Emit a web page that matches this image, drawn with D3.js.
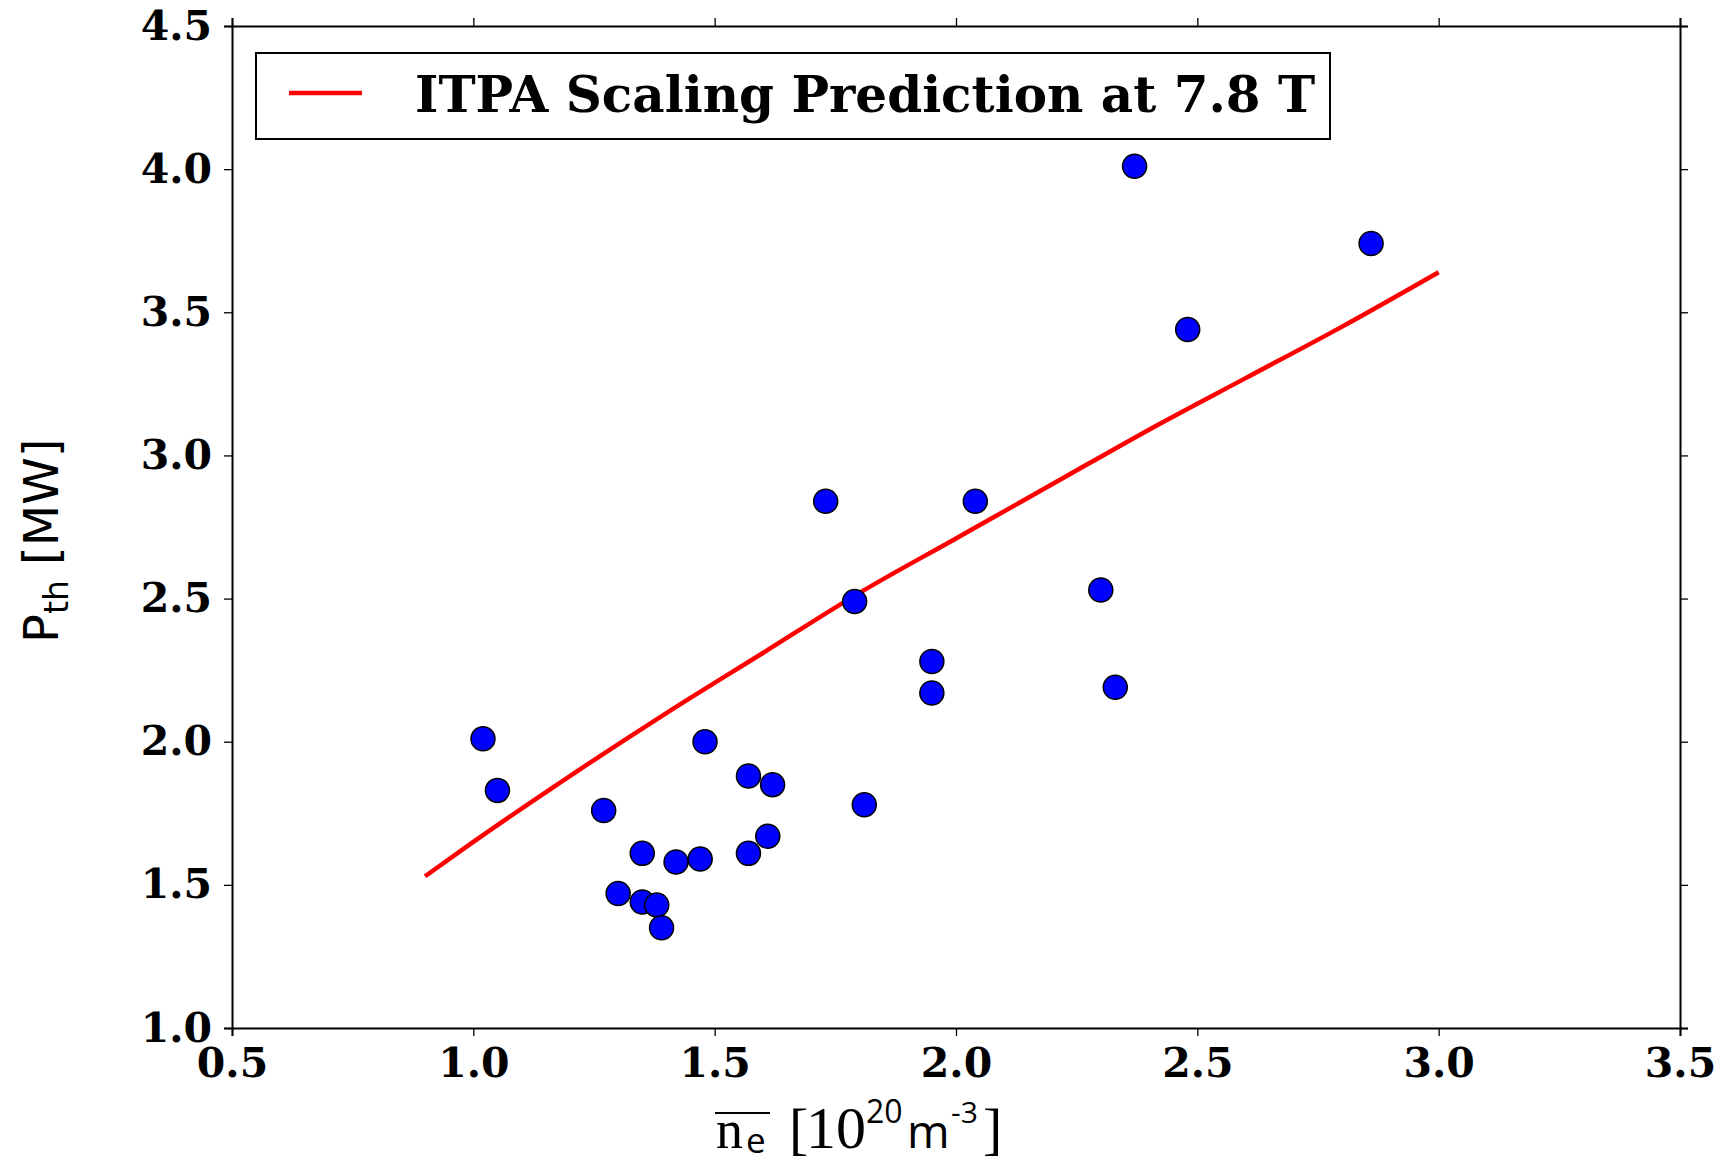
<!DOCTYPE html>
<html>
<head>
<meta charset="utf-8">
<script src="https://cdn.jsdelivr.net/npm/d3@7"></script>
<style>
  body { margin: 0; background: #fff; }
  svg { display: block; }
</style>
</head>
<body>
<div id="chart"></div>
<script>
// measured points (electron density, threshold power)
var densityVals = [1.02, 1.05, 1.27, 1.30, 1.35, 1.35, 1.38, 1.39, 1.42, 1.47, 1.48, 1.57, 1.57, 1.61, 1.62, 1.73, 1.79, 1.81, 1.95, 1.95, 2.04, 2.30, 2.33, 2.37, 2.48, 2.86];
var powerVals = [2.01, 1.83, 1.76, 1.47, 1.61, 1.44, 1.43, 1.35, 1.58, 1.59, 2.00, 1.61, 1.88, 1.67, 1.85, 2.84, 2.49, 1.78, 2.17, 2.28, 2.84, 2.53, 2.19, 4.01, 3.44, 3.74];

// ITPA scaling curve
var scalingX = [0.9, 1.0, 1.2, 1.4, 1.6, 1.8, 2.0, 2.2, 2.4, 2.6, 2.8, 3.0];
var scalingY = [1.53, 1.65, 1.88, 2.10, 2.31, 2.52, 2.71, 2.90, 3.09, 3.27, 3.45, 3.64];

var xTicks = [0.5, 1.0, 1.5, 2.0, 2.5, 3.0, 3.5];
var yTicks = [1.0, 1.5, 2.0, 2.5, 3.0, 3.5, 4.0, 4.5];

var svgWidth = 1722;
var svgHeight = 1162;

var margin = { top: 26, right: 42, bottom: 134, left: 232 };
var width = svgWidth - margin.left - margin.right;
var height = svgHeight - margin.top - margin.bottom;

var svg = d3.select("#chart")
  .append("svg")
  .attr("width", svgWidth)
  .attr("height", svgHeight);

var chartGroup = svg.append("g")
  .attr("transform", `translate(${margin.left}, ${margin.top})`);

var xScale = d3.scaleLinear().domain([0.5, 3.5]).range([0, width]);
var yScale = d3.scaleLinear().domain([1.0, 4.5]).range([height, 0]);

var tickFont = "'DejaVu Serif', serif";

// axes on all four sides, ticks pointing out
var bottomAxis = d3.axisBottom(xScale).tickValues(xTicks).tickFormat(d3.format(".1f")).tickSize(8).tickPadding(12);
var leftAxis = d3.axisLeft(yScale).tickValues(yTicks).tickFormat(d3.format(".1f")).tickSize(8).tickPadding(12);
var topAxis = d3.axisTop(xScale).tickValues(xTicks).tickFormat("").tickSize(8);
var rightAxis = d3.axisRight(yScale).tickValues(yTicks).tickFormat("").tickSize(8);

function styleAxis(g) {
  g.select(".domain").attr("stroke", "#000").attr("stroke-width", 2);
  g.selectAll(".tick line").attr("stroke", "#000").attr("stroke-width", 1.3);
  g.selectAll(".tick text")
    .attr("font-family", tickFont)
    .attr("font-weight", "bold")
    .attr("font-size", "41px")
    .attr("fill", "#000");
}

chartGroup.append("g").attr("transform", `translate(0, ${height})`).call(bottomAxis).call(styleAxis);
chartGroup.append("g").call(leftAxis).call(styleAxis);
chartGroup.append("g").call(topAxis).call(styleAxis);
chartGroup.append("g").attr("transform", `translate(${width}, 0)`).call(rightAxis).call(styleAxis);

// scaling curve
var line = d3.line()
  .x(d => xScale(d[0]))
  .y(d => yScale(d[1]))
  .curve(d3.curveMonotoneX);

chartGroup.append("path")
  .datum(scalingX.map((x, i) => [x, scalingY[i]]))
  .attr("d", line)
  .attr("fill", "none")
  .attr("stroke", "#ff0000")
  .attr("stroke-width", 4.5);

// data points
chartGroup.selectAll("circle")
  .data(densityVals.map((x, i) => [x, powerVals[i]]))
  .enter()
  .append("circle")
  .attr("cx", d => xScale(d[0]))
  .attr("cy", d => yScale(d[1]))
  .attr("r", 12)
  .attr("fill", "#0000ff")
  .attr("stroke", "#000")
  .attr("stroke-width", 1.5);

// legend
var legend = svg.append("g");
legend.append("rect")
  .attr("x", 256).attr("y", 53)
  .attr("width", 1074).attr("height", 86)
  .attr("fill", "#fff")
  .attr("stroke", "#000")
  .attr("stroke-width", 2);
legend.append("line")
  .attr("x1", 289).attr("x2", 362)
  .attr("y1", 93).attr("y2", 93)
  .attr("stroke", "#ff0000")
  .attr("stroke-width", 4.5);
legend.append("text")
  .attr("x", 415).attr("y", 112)
  .attr("font-family", tickFont)
  .attr("font-weight", "bold")
  .attr("font-size", "50px")
  .text("ITPA Scaling Prediction at 7.8 T");

// x axis label, pieces placed one by one (mixed serif / sans like the original)
var serif = "'Liberation Serif', serif";
var sans = "'Open Sans', sans-serif";
var xLabelParts = [
  { t: "n",  x: 716, y: 1148, f: serif, s: 54 },
  { t: "e",  x: 746, y: 1153, f: sans,  s: 35 },
  { t: "[",  x: 789, y: 1148, f: serif, s: 58 },
  { t: "10", x: 806, y: 1148, f: serif, s: 60 },
  { t: "20", x: 866, y: 1123, f: sans,  s: 32 },
  { t: "m",  x: 907, y: 1148, f: sans,  s: 46 },
  { t: "-3", x: 951, y: 1123, f: sans,  s: 30 },
  { t: "]",  x: 983, y: 1148, f: serif, s: 58 }
];
svg.append("g").selectAll("text")
  .data(xLabelParts)
  .enter()
  .append("text")
  .attr("x", d => d.x)
  .attr("y", d => d.y)
  .attr("font-family", d => d.f)
  .attr("font-size", d => d.s + "px")
  .attr("fill", "#000")
  .text(d => d.t);

// overline over n_e
svg.append("line")
  .attr("x1", 715).attr("x2", 770)
  .attr("y1", 1113).attr("y2", 1113)
  .attr("stroke", "#000").attr("stroke-width", 2);

// y axis label
var yLabel = svg.append("text")
  .attr("transform", "translate(58, 643) rotate(-90)")
  .attr("font-family", "'DejaVu Sans', sans-serif")
  .attr("fill", "#000");
yLabel.append("tspan").attr("font-size", "48px").text("P");
yLabel.append("tspan").attr("font-size", "33px").attr("dy", 10).text("th");
yLabel.append("tspan").attr("font-size", "48px").attr("dy", -10).text(" [MW]");
</script>
</body>
</html>
